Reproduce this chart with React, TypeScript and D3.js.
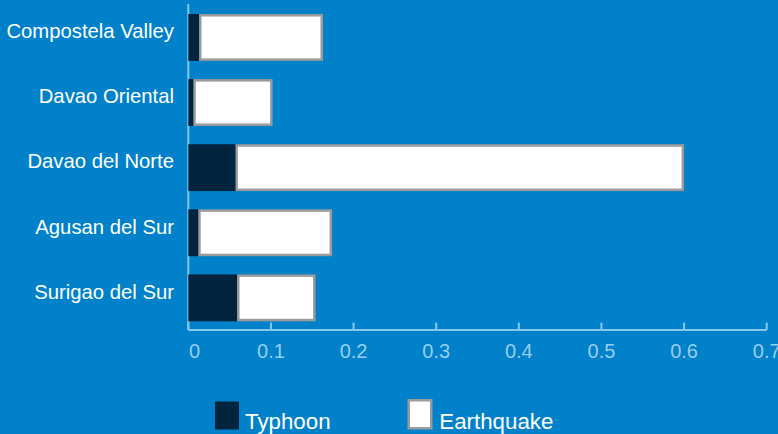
import React from "react";
import * as d3 from "d3";

const categories = ["Compostela Valley", "Davao Oriental", "Davao del Norte", "Agusan del Sur", "Surigao del Sur"];
const typhoon = [0.013, 0.006, 0.057, 0.012, 0.059];
const earthquake = [0.150, 0.096, 0.543, 0.162, 0.095];
const tickValues = [0, 0.1, 0.2, 0.3, 0.4, 0.5, 0.6, 0.7];
const tickLabels = ["0", "0.1", "0.2", "0.3", "0.4", "0.5", "0.6", "0.7"];
const seriesNames = ["Typhoon", "Earthquake"];

const W = 778;
const H = 434;
const BG = "#0081C9";
const DARK = "#03243E";
const GRAY = "#9B9B9B";
const AXIS = "#88C6EC";
const TICKTXT = "#98CEF0";
const FONT = "'Liberation Sans', Arial, Helvetica, sans-serif";

export default function App() {
  const x = d3.scaleLinear().domain([0, 0.7]).range([188.3, 766.7]);
  const y = d3
    .scaleBand<string>()
    .domain(categories)
    .range([4.9, 330.4])
    .paddingInner(0.28)
    .paddingOuter(0.14);
  const bw = y.bandwidth();
  const sw = 2.5;
  const axisY = 330;

  return (
    <svg
      width={W}
      height={H}
      style={{ position: "absolute", left: 0, top: 0, display: "block" }}
      fontFamily={FONT}
    >
      <rect x={0} y={0} width={W} height={H} fill={BG} />

      {/* axes */}
      <line x1={x(0)} x2={x(0)} y1={4} y2={axisY} stroke={AXIS} strokeWidth={2} />
      <line x1={x(0)} x2={x(0.7)} y1={axisY} y2={axisY} stroke={AXIS} strokeWidth={2} />
      {tickValues.map((t, i) => (
        <g key={"t" + i}>
          <line x1={x(t)} x2={x(t)} y1={axisY - 7.5} y2={axisY} stroke={AXIS} strokeWidth={2} />
          <text
            x={i === 0 ? x(t) + 0.8 : x(t)}
            y={357.6}
            fill={TICKTXT}
            fontSize={20}
            textAnchor={i === 0 ? "start" : "middle"}
          >
            {tickLabels[i]}
          </text>
        </g>
      ))}

      {/* bars */}
      {categories.map((c, i) => {
        const top = y(c)!;
        const t0 = x(0);
        const t1 = x(typhoon[i]);
        const t2 = x(typhoon[i] + earthquake[i]);
        return (
          <g key={c}>
            <rect
              x={t1 + sw / 2}
              y={top + sw / 2}
              width={t2 - t1 - sw}
              height={bw - sw}
              fill="#FFFFFF"
              stroke={GRAY}
              strokeWidth={sw}
            />
            <rect x={t0} y={top} width={t1 - t0} height={bw} fill={DARK} />
            <text
              x={174}
              y={top + bw / 2 + 0.8}
              fill="#FFFFFF"
              fontSize={20.3}
              textAnchor="end"
            >
              {c}
            </text>
          </g>
        );
      })}

      {/* legend */}
      <rect x={215} y={401.5} width={24} height={28} fill={DARK} />
      <text x={245} y={429} fill="#FFFFFF" fontSize={22.3}>
        {seriesNames[0]}
      </text>
      <rect
        x={407.5 + sw / 2}
        y={399 + sw / 2}
        width={25 - sw}
        height={30.5 - sw}
        fill="#FFFFFF"
        stroke={GRAY}
        strokeWidth={sw}
      />
      <text x={439.3} y={429} fill="#FFFFFF" fontSize={22.3}>
        {seriesNames[1]}
      </text>
    </svg>
  );
}
